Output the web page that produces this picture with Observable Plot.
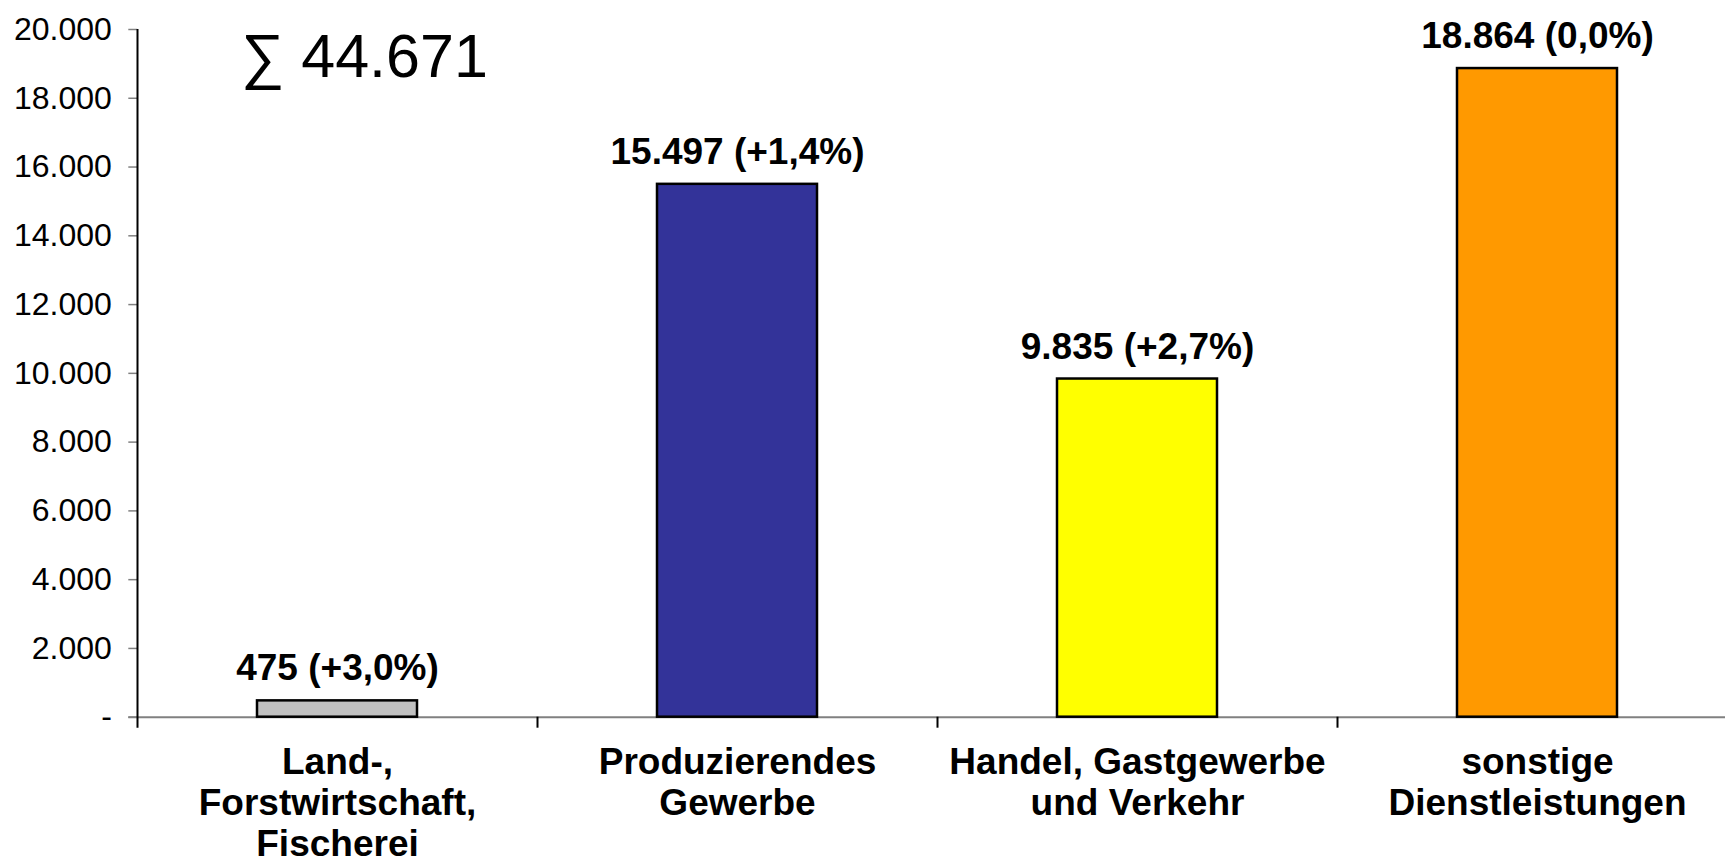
<!DOCTYPE html>
<html>
<head>
<meta charset="utf-8">
<script src="https://cdn.jsdelivr.net/npm/d3@7"></script>
<script src="https://cdn.jsdelivr.net/npm/@observablehq/plot@0.6"></script>
<style>
  html, body { margin: 0; padding: 0; background: #fff; overflow: hidden; }
  #chart svg { display: block; overflow: visible; }
</style>
</head>
<body>
<div id="chart"></div>
<script>
// ---- data ----
const categories = [
  "Land-,\nForstwirtschaft,\nFischerei",
  "Produzierendes\nGewerbe",
  "Handel, Gastgewerbe\nund Verkehr",
  "sonstige\nDienstleistungen"
];
const values = [475, 15497, 9835, 18864];
const changes = ["+3,0%", "+1,4%", "+2,7%", "0,0%"];
const colors = ["#C0C0C0", "#333399", "#FFFF00", "#FF9900"];
const yTicks = [0, 2000, 4000, 6000, 8000, 10000, 12000, 14000, 16000, 18000, 20000];
const yTickLabels = ["-", "2.000", "4.000", "6.000", "8.000", "10.000", "12.000", "14.000", "16.000", "18.000", "20.000"];

const de = d3.formatLocale({decimal: ",", thousands: ".", grouping: [3], currency: ["", " €"]});
const fmt = de.format(",d");

const rows = categories.map((c, i) => ({
  cat: c, value: values[i], color: colors[i],
  label: `${fmt(values[i])} (${changes[i]})`
}));
const total = d3.sum(values);

const font = "'Liberation Sans', Arial, Helvetica, sans-serif";

const chart = Plot.plot({
  width: 1725,
  height: 859,
  marginLeft: 137.3,
  marginRight: 0,
  marginTop: 0,
  marginBottom: 142.3,
  style: {fontFamily: font, background: "#fff", color: "#000"},
  x: {domain: categories, range: [137.3, 1737.3], padding: 0, axis: null},
  y: {domain: [0, 20000], range: [716.7, 29], axis: null},
  marks: [
    // y axis ticks + labels
    Plot.axisY({ticks: yTicks, tickFormat: d => yTickLabels[yTicks.indexOf(d)], tickSize: 9, tickPadding: 17,
      fontSize: 32, stroke: "#808080", strokeWidth: 1.5, fill: "#000", label: null}),
    // baseline
    Plot.ruleY([0], {stroke: "#808080", strokeWidth: 2, insetLeft: -9}),
    // bars
    Plot.barY(rows, {x: "cat", y: "value", fill: "color", stroke: "#000", strokeWidth: 2.5, insetLeft: 120, insetRight: 120}),
    // y axis line (left edge of first band)
    Plot.ruleX([categories[0]], {x: d => d, dx: -200, y1: 20000, y2: 0, insetBottom: -11, stroke: "#000", strokeWidth: 2}),
    // category boundary ticks
    Plot.ruleX(categories.slice(1), {x: d => d, dx: -200, y1: 0, y2: 0, insetBottom: -11, stroke: "#000", strokeWidth: 2}),
    // value labels
    Plot.text(rows, {x: "cat", y: "value", text: "label", lineAnchor: "bottom", dy: -20.5, fontSize: 37, fontWeight: "bold", fill: "#000"}),
    // category labels
    Plot.text(categories, {x: d => d, y: 0, text: d => d, lineAnchor: "top", dy: 28, fontSize: 37, fontWeight: "bold", lineHeight: 1.11, fill: "#000"}),
    // sum
    Plot.text([total], {frameAnchor: "top-left", text: d => `∑ ${fmt(d)}`, textAnchor: "start", lineAnchor: "bottom", dx: 103, dy: 76.7, fontSize: 61, fill: "#000"})
  ]
});
document.getElementById("chart").appendChild(chart);
</script>
</body>
</html>
